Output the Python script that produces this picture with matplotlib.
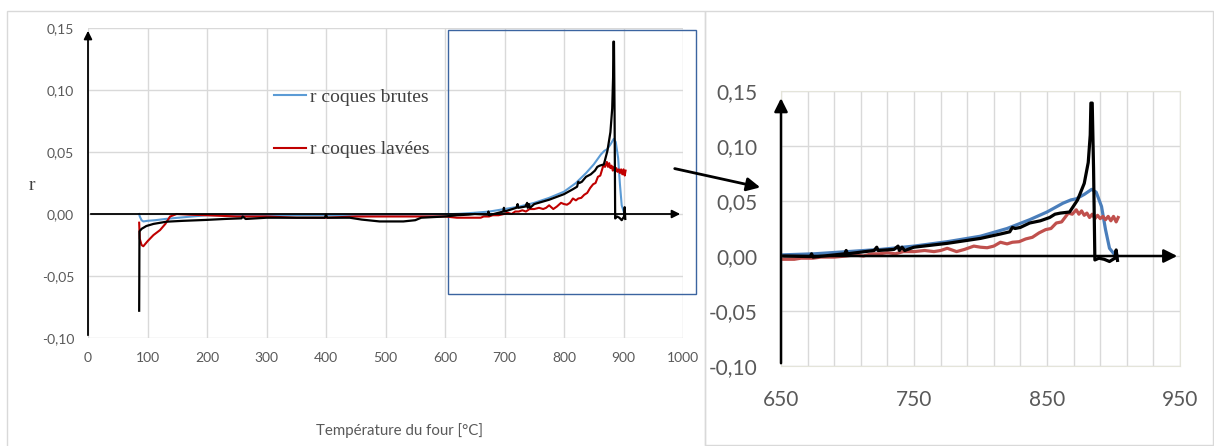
import numpy as np
import matplotlib
matplotlib.use("Agg")
import matplotlib.pyplot as plt
from matplotlib.patches import Rectangle, FancyArrowPatch
from matplotlib.ticker import FixedLocator, FuncFormatter

# ---- data (T in °C, r) ----
t_brut = [86, 87, 90, 93, 100, 113, 130, 152, 175, 200, 250, 300, 350, 400, 450, 500, 550, 600,
          625, 650, 675, 700, 725, 750, 775, 800, 820, 837, 850, 862, 868, 872, 878, 883.6, 887,
          891, 894, 897, 901, 903]
r_brut = [0.0, -0.002, -0.005, -0.006, -0.0055, -0.005, -0.004, -0.003, -0.002, -0.001, -0.0009,
          -0.0008, -0.0008, -0.0008, -0.0007, -0.0005, -0.0004, -0.0003,
          0.0002, 0.001, 0.002, 0.004, 0.006, 0.009, 0.013, 0.018, 0.025, 0.033, 0.040, 0.048,
          0.051, 0.052, 0.056, 0.0606, 0.058, 0.045, 0.024, 0.007, 0.001, 0.0]

t_lave = [86, 87, 90, 93, 100, 110, 121, 130, 138, 149, 170, 200, 250, 300, 350, 400, 450, 500,
          550, 600, 620, 650, 660, 665, 674, 680, 690, 699, 705, 712, 718, 724, 730, 736, 742,
          750, 758, 765, 770, 775, 782, 788, 795, 800, 805, 810, 815, 820, 824, 829, 834, 839,
          844, 849, 853, 857, 861, 866, 869, 872, 874, 876, 878, 880, 882, 884, 886, 888, 890,
          892, 894, 896, 898, 900, 902, 903.5]
r_lave = [-0.007, -0.02, -0.025, -0.026, -0.022, -0.017, -0.013, -0.008, -0.002, 0.0, -0.0005,
          -0.001, -0.002, -0.002, -0.003, -0.003, -0.002, -0.002, -0.002, -0.002, -0.003,
          -0.003, -0.003, -0.002, -0.002, -0.001, -0.001, 0.0, 0.001, 0.0, 0.002, 0.002, 0.003,
          0.002, 0.004, 0.004, 0.005, 0.004, 0.005, 0.007, 0.004, 0.006, 0.009, 0.008, 0.0075,
          0.009, 0.0125, 0.011, 0.0125, 0.013, 0.0155, 0.017, 0.021, 0.024, 0.025, 0.030, 0.031,
          0.039, 0.038, 0.042, 0.038, 0.041, 0.037, 0.039, 0.035, 0.038, 0.034, 0.037, 0.034,
          0.036, 0.033, 0.036, 0.032, 0.036, 0.031, 0.035]

t_noir = [86, 86.5, 90, 98, 110, 132, 160, 197, 230, 258, 260, 265, 300, 350, 398, 400, 402,
          440, 460, 490, 530, 550, 560, 600, 620, 640, 650, 672, 673, 674, 690, 698, 699, 700,
          720, 722, 723, 735, 738, 739, 741, 743, 750, 775, 800, 815, 822, 824, 826, 830, 837,
          845, 852, 856, 860, 867, 873, 878, 881, 882.5, 883, 884, 885, 886, 889, 893, 897, 901,
          902, 903]
r_noir = [-0.078, -0.014, -0.012, -0.0097, -0.008, -0.0062, -0.0055, -0.0048, -0.004, -0.0035,
          -0.002, -0.004, -0.003, -0.003, -0.003, -0.0005, -0.003, -0.003, -0.0045, -0.006,
          -0.006, -0.005, -0.003, -0.002, -0.001, -0.0005, 0.0, -0.0005, 0.002, -0.001, 0.001,
          0.002, 0.005, 0.002, 0.005, 0.008, 0.005, 0.006, 0.009, 0.005, 0.008, 0.005, 0.008,
          0.0115, 0.016, 0.020, 0.022, 0.026, 0.025, 0.026, 0.030, 0.032, 0.035, 0.038, 0.039,
          0.040, 0.051, 0.066, 0.085, 0.110, 0.139, 0.139, 0.08, -0.0036, -0.002, -0.003,
          -0.005, -0.002, 0.0055, -0.004]

label_brut = "r coques brutes"
label_lave = "r coques lavées"

W, H = 1214, 446
fig = plt.figure(figsize=(W / 100, H / 100), dpi=100)
TICK_FONT = "Lato"
GRAY = "#595959"
GRID = "#d9d9d9"


def px_axes(x0, y0, x1, y1):
    # pixel box -> figure fraction
    return fig.add_axes([x0 / W, 1 - y1 / H, (x1 - x0) / W, (y1 - y0) / H])


def comma(v, pos):
    return f"{v:.2f}".replace(".", ",")


# outer panel frames
fig.add_artist(Rectangle((7 / W, -0.05), (705 - 7) / W, 1.05 - 10.7 / H,
                         transform=fig.transFigure, fill=False, ec=GRID, lw=1))
fig.add_artist(Rectangle((705 / W, 1 - 445 / H), (1213 - 705) / W, (445 - 10.7) / H,
                         transform=fig.transFigure, fill=False, ec=GRID, lw=1))

# ---- left panel ----
ax = px_axes(88, 28, 683, 338)
ax.plot(t_brut, r_brut, color="#5b9bd5", lw=1.5, label=label_brut)
ax.plot(t_lave, r_lave, color="#c00000", lw=1.5, label=label_lave)
ax.plot(t_noir, r_noir, color="black", lw=1.6)
ax.set_xlim(0, 1000)
ax.set_ylim(-0.10, 0.15)
ax.set_xticks(np.arange(0, 1001, 100))
ax.set_yticks([-0.10, -0.05, 0.0, 0.05, 0.10, 0.15])
ax.yaxis.set_major_formatter(FuncFormatter(comma))
ax.grid(True, color=GRID, lw=1)
ax.set_axisbelow(True)
for s in ax.spines.values():
    s.set_visible(False)
ax.tick_params(length=0, labelsize=10, labelcolor=GRAY, pad=10)
for lab in ax.get_xticklabels() + ax.get_yticklabels():
    lab.set_family(TICK_FONT)
ax.annotate("", xy=(1000, 0), xytext=(0, 0),
            arrowprops=dict(arrowstyle="-|>", color="black", lw=1.3, mutation_scale=12))
ax.annotate("", xy=(0, 0.15), xytext=(0, -0.10),
            arrowprops=dict(arrowstyle="-|>", color="black", lw=1.3, mutation_scale=12))
ax.add_patch(Rectangle((605, -0.0645), 1022 - 605, 0.148 + 0.0645, fill=False,
                       ec="#3b64a0", lw=1, clip_on=False))
leg = ax.legend(loc="upper left", bbox_to_anchor=(0.3126, 0.806), frameon=False,
                borderpad=0, borderaxespad=0, handlelength=1.65, handletextpad=0.18,
                labelspacing=1.8, prop={"family": "Liberation Serif", "size": 14})
for t in leg.get_texts():
    t.set_color("#404040")
fig.text(32 / W, 1 - 185 / H, "r", family="Liberation Serif", size=14, color="#404040",
         ha="center", va="center")
fig.text(400 / W, 1 - 431 / H, "Température du four [°C]", family=TICK_FONT, size=10.8,
         color=GRAY, ha="center", va="center")

# ---- right panel (zoom) ----
az = px_axes(781, 91, 1180, 366)
az.plot(t_brut, r_brut, color="#4a7ebb", lw=2.3)
az.plot(t_lave, r_lave, color="#c0504d", lw=2.3)
az.plot(t_noir, r_noir, color="black", lw=2.3)
az.set_xlim(650, 950)
az.set_ylim(-0.10, 0.15)
az.set_xticks([650, 750, 850, 950])
az.xaxis.set_minor_locator(FixedLocator(np.arange(650, 951, 20)))
az.set_yticks([-0.10, -0.05, 0.0, 0.05, 0.10, 0.15])
az.yaxis.set_major_formatter(FuncFormatter(comma))
az.grid(True, which="both", color=GRID, lw=1)
az.set_axisbelow(True)
for s in az.spines.values():
    s.set_color("#e4e4da")
az.tick_params(which="both", length=0, labelsize=15, labelcolor=GRAY)
az.tick_params(axis="y", pad=17)
az.tick_params(axis="x", pad=17)
for lab in az.get_xticklabels() + az.get_yticklabels():
    lab.set_family(TICK_FONT)
az.annotate("", xy=(950, 0), xytext=(650, 0),
            arrowprops=dict(arrowstyle="-|>", color="black", lw=1.8, mutation_scale=20))
az.annotate("", xy=(650, 0.146), xytext=(650, -0.10),
            arrowprops=dict(arrowstyle="-|>", color="black", lw=1.8, mutation_scale=20))

# arrow between the panels
fig.add_artist(FancyArrowPatch(
    (672 / W, 1 - 168 / H), (763 / W, 1 - 188 / H), transform=fig.transFigure,
    arrowstyle="-|>", color="black", lw=2, mutation_scale=20))

fig.savefig("out.png", dpi=100)
